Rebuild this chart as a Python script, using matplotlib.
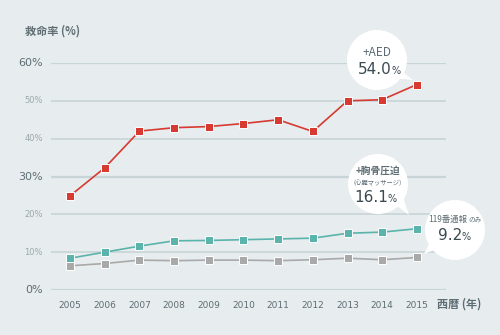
import matplotlib
matplotlib.use('Agg')
import matplotlib.pyplot as plt
from matplotlib.patches import Circle, Polygon

plt.rcParams['font.family'] = ['Noto Sans CJK JP', 'DejaVu Sans']

# データ
years = [2005, 2006, 2007, 2008, 2009, 2010, 2011, 2012, 2013, 2014, 2015]
aed = [24.9, 32.3, 42.0, 42.9, 43.2, 44.0, 45.0, 41.9, 50.0, 50.3, 54.3]
chest = [8.4, 10.0, 11.6, 13.0, 13.1, 13.3, 13.5, 13.7, 15.0, 15.3, 16.2]
call_only = [6.4, 7.0, 7.9, 7.75, 7.9, 7.9, 7.75, 8.0, 8.4, 8.0, 8.6]
yticks = [0, 10, 20, 30, 40, 50, 60]

BG = '#e7ecee'
GRID = '#c8d5d8'
TXT = '#5d6d73'
DARK = '#3a4a50'
RED = '#d63a31'
TEAL = '#5ab4ac'
GRAY = '#a9a9a9'
NUM = ['DejaVu Sans']

fig = plt.figure(figsize=(5, 3.35), dpi=100, facecolor=BG)
ax = fig.add_axes([51 / 500, 45 / 335, 395 / 500, 227 / 335], facecolor=BG)
ax.set_xlim(2004.45, 2015.84)
ax.set_ylim(0, 60)

for v in yticks:
    lw = 1.6 if v in (0, 30, 60) else 1.2
    ax.axhline(v, color=GRID, lw=lw, zorder=1)

for data, col in [(call_only, GRAY), (chest, TEAL), (aed, RED)]:
    ax.plot(years, data, color=col, lw=1.2, marker='s', ms=5.5,
            mec='white', mew=0.7, zorder=3)

for s in ax.spines.values():
    s.set_visible(False)
ax.set_yticks([])
ax.set_xticks(years)
ax.set_xticklabels([str(y) for y in years], fontsize=6.5, color=TXT, family=NUM)
ax.tick_params(axis='x', length=0, pad=8)

# 重ね描き用の軸 (ピクセル座標)
ov = fig.add_axes([0, 0, 1, 1], facecolor='none')
ov.set_xlim(0, 500)
ov.set_ylim(335, 0)
ov.axis('off')

for v in yticks:
    py = 290 - v * 227 / 60
    big = v in (0, 30, 60)
    ov.text(43, py, f'{v}%', ha='right', va='center',
            fontsize=8 if big else 6, color=TXT if big else '#9aa8ac',
            family=NUM)

ov.text(25, 31, '救命率 (%)', fontsize=8, color=TXT, va='center', weight='bold')
ov.text(437, 304, '西暦 (年)', fontsize=8, color=TXT, va='center', weight='bold')


def bubble(cx, cy, r, tail):
    ov.add_patch(Polygon(tail, closed=True, fc='white', ec='none', zorder=5))
    ov.add_patch(Circle((cx, cy), r, fc='white', ec='none', zorder=5))


def value(x, y, num):
    ov.text(x, y, num, ha='right', va='center', fontsize=11, color=DARK,
            zorder=6, family=NUM)
    ov.text(x - 0.5, y + 1.5, '%', ha='left', va='center', fontsize=7,
            color=DARK, zorder=6, family=NUM)


bubble(377, 60, 30, [(392, 78), (400, 70), (413, 80)])
ov.text(377, 52, '+AED', ha='center', va='center', fontsize=8.5, color=TXT, zorder=6)
value(392, 70, '54.0')

bubble(378, 184, 30, [(393, 203), (402, 194), (409, 215)])
ov.text(378, 171, '+胸骨圧迫', ha='center', va='center', fontsize=7, color=TXT,
        zorder=6, weight='bold')
ov.text(378, 183, '（心臓マッサージ）', ha='center', va='center', fontsize=4.5,
        color=TXT, zorder=6)
value(388, 197, '16.1')

bubble(455, 230, 30, [(433, 236), (442, 247), (424, 254)])
ov.text(467, 219, '119番通報', ha='right', va='center', fontsize=6, color=TXT, zorder=6)
ov.text(468, 219.5, 'のみ', ha='left', va='center', fontsize=4.8, color=TXT, zorder=6)
value(462, 236, '9.2')

fig.savefig('out.png', dpi=100, facecolor=BG)
